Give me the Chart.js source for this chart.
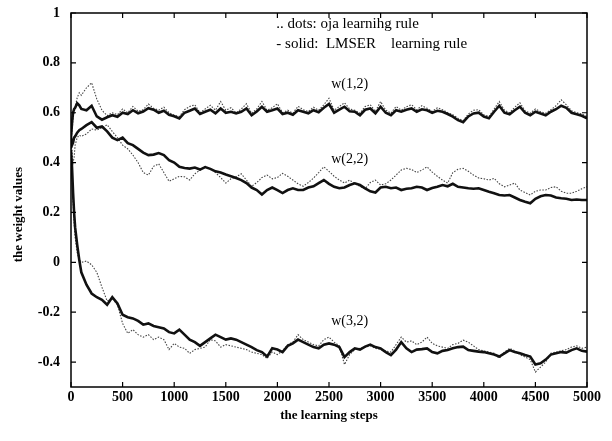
<!DOCTYPE html>
<html>
<head>
<meta charset="utf-8">
<script src="https://cdn.jsdelivr.net/npm/chart.js@4.4.1/dist/chart.umd.min.js"></script>
<style>
  body { margin: 0; background: #fff; }
  #wrap { width: 612px; height: 441px; }
</style>
</head>
<body>
<div id="wrap"><canvas id="grafico" width="612" height="441"></canvas></div>
<script>
// learning steps (x values)
const passos = [0, 10, 20, 30, 40, 60, 80,
  100, 150, 200, 250, 300, 350, 400, 450, 500, 550,
  600, 650, 700, 750, 800, 850, 900, 950, 1000, 1050,
  1100, 1150, 1200, 1250, 1300, 1350, 1400, 1450, 1500, 1550,
  1600, 1650, 1700, 1750, 1800, 1850, 1900, 1950, 2000, 2050,
  2100, 2150, 2200, 2250, 2300, 2350, 2400, 2450, 2500, 2550,
  2600, 2650, 2700, 2750, 2800, 2850, 2900, 2950, 3000, 3050,
  3100, 3150, 3200, 3250, 3300, 3350, 3400, 3450, 3500, 3550,
  3600, 3650, 3700, 3750, 3800, 3850, 3900, 3950, 4000, 4050,
  4100, 4150, 4200, 4250, 4300, 4350, 4400, 4450, 4500, 4550,
  4600, 4650, 4700, 4750, 4800, 4850, 4900, 4950, 5000];

// LMSER (solid)
const lmserW12 = [0.5, 0.56, 0.6, 0.615, 0.62, 0.638, 0.63,
  0.615, 0.61, 0.628, 0.585, 0.572, 0.582, 0.59, 0.584, 0.6, 0.595,
  0.61, 0.598, 0.605, 0.618, 0.612, 0.6, 0.608, 0.592, 0.586, 0.577,
  0.6, 0.608, 0.617, 0.595, 0.604, 0.612, 0.598, 0.617, 0.6, 0.604,
  0.597, 0.604, 0.617, 0.59, 0.605, 0.624, 0.604, 0.61, 0.617, 0.595,
  0.6, 0.592, 0.61, 0.604, 0.598, 0.61, 0.602, 0.62, 0.635, 0.6,
  0.612, 0.624, 0.606, 0.604, 0.59, 0.612, 0.617, 0.598, 0.624, 0.6,
  0.59, 0.61, 0.604, 0.612, 0.617, 0.604, 0.614, 0.61, 0.6, 0.608,
  0.604, 0.595, 0.584, 0.57, 0.562, 0.585, 0.597, 0.6, 0.585, 0.578,
  0.604, 0.628, 0.6, 0.594, 0.61, 0.624, 0.6, 0.59, 0.604, 0.597,
  0.59, 0.604, 0.614, 0.628, 0.62, 0.6, 0.594, 0.588, 0.578];

const lmserW22 = [0.5, 0.47, 0.48, 0.5, 0.505, 0.52, 0.53,
  0.535, 0.55, 0.562, 0.54, 0.545, 0.525, 0.5, 0.49, 0.5, 0.478,
  0.47, 0.455, 0.44, 0.43, 0.432, 0.438, 0.43, 0.41, 0.4, 0.383,
  0.378, 0.376, 0.38, 0.372, 0.382, 0.375, 0.365, 0.36, 0.352, 0.345,
  0.338, 0.33, 0.318, 0.3, 0.29, 0.272, 0.29, 0.3, 0.29, 0.278,
  0.29, 0.297, 0.29, 0.29, 0.3, 0.305, 0.318, 0.33, 0.315, 0.303,
  0.297, 0.3, 0.31, 0.317, 0.31, 0.297, 0.285, 0.28, 0.3, 0.303,
  0.297, 0.3, 0.29, 0.295, 0.297, 0.303, 0.3, 0.29, 0.298, 0.303,
  0.31, 0.305, 0.315, 0.303, 0.3, 0.297, 0.295, 0.297, 0.29, 0.283,
  0.277, 0.27, 0.268, 0.27, 0.26, 0.25, 0.243, 0.237, 0.255, 0.265,
  0.27, 0.268, 0.26, 0.257, 0.255, 0.25, 0.252, 0.25, 0.25];

const lmserW32 = [0.45, 0.38, 0.28, 0.2, 0.14, 0.07, 0.01,
  -0.04, -0.09, -0.125, -0.14, -0.15, -0.17, -0.14, -0.165, -0.21, -0.22,
  -0.225, -0.235, -0.25, -0.245, -0.255, -0.26, -0.265, -0.28, -0.285, -0.27,
  -0.29, -0.31, -0.32, -0.335, -0.32, -0.305, -0.29, -0.3, -0.31, -0.305,
  -0.31, -0.32, -0.33, -0.34, -0.352, -0.36, -0.378, -0.345, -0.35, -0.36,
  -0.335, -0.325, -0.31, -0.32, -0.33, -0.34, -0.345, -0.33, -0.325, -0.33,
  -0.34, -0.38, -0.36, -0.345, -0.35, -0.338, -0.33, -0.34, -0.345, -0.36,
  -0.372, -0.35, -0.32, -0.345, -0.36, -0.35, -0.348, -0.345, -0.36, -0.365,
  -0.355, -0.352, -0.345, -0.34, -0.338, -0.352, -0.355, -0.358, -0.36, -0.365,
  -0.37, -0.378, -0.365, -0.352, -0.36, -0.365, -0.372, -0.378, -0.41, -0.405,
  -0.39, -0.37, -0.365, -0.36, -0.362, -0.352, -0.345, -0.355, -0.358];

// oja (dots)
const ojaW12 = [0.5, 0.52, 0.58, 0.6, 0.62, 0.66, 0.68,
  0.67, 0.7, 0.72, 0.655, 0.61, 0.588, 0.6, 0.592, 0.615, 0.6,
  0.625, 0.606, 0.612, 0.635, 0.618, 0.61, 0.622, 0.6, 0.59, 0.585,
  0.612, 0.625, 0.632, 0.6, 0.615, 0.63, 0.61, 0.645, 0.61, 0.62,
  0.6, 0.615, 0.636, 0.598, 0.615, 0.645, 0.61, 0.62, 0.636, 0.6,
  0.61, 0.598, 0.626, 0.612, 0.605, 0.622, 0.61, 0.632, 0.658, 0.61,
  0.625, 0.64, 0.615, 0.61, 0.598, 0.625, 0.632, 0.605, 0.645, 0.61,
  0.598, 0.625, 0.61, 0.624, 0.632, 0.612, 0.628, 0.618, 0.605, 0.62,
  0.612, 0.6, 0.592, 0.578, 0.568, 0.595, 0.61, 0.612, 0.592, 0.585,
  0.615, 0.645, 0.61, 0.6, 0.622, 0.64, 0.608, 0.598, 0.615, 0.604,
  0.598, 0.612, 0.628, 0.652, 0.632, 0.608, 0.6, 0.595, 0.585];

const ojaW22 = [0.5, 0.44, 0.4, 0.42, 0.47, 0.5, 0.51,
  0.505, 0.515, 0.535, 0.53, 0.54, 0.552, 0.525, 0.5, 0.47, 0.455,
  0.43, 0.4, 0.36, 0.35, 0.385, 0.395, 0.36, 0.325, 0.335, 0.345,
  0.343, 0.33, 0.355, 0.37, 0.385, 0.375, 0.36, 0.34, 0.318, 0.335,
  0.343, 0.355, 0.33, 0.305, 0.32, 0.34, 0.35, 0.335, 0.34, 0.357,
  0.345, 0.33, 0.315, 0.305, 0.32, 0.338, 0.36, 0.383, 0.365, 0.345,
  0.33, 0.318, 0.33, 0.315, 0.305, 0.295, 0.32, 0.33, 0.31, 0.315,
  0.33, 0.35, 0.37, 0.377, 0.372, 0.36, 0.37, 0.383, 0.362, 0.345,
  0.33, 0.318, 0.36, 0.373, 0.377, 0.365, 0.35, 0.338, 0.335, 0.33,
  0.337, 0.315, 0.303, 0.31, 0.318, 0.29, 0.28, 0.27, 0.285, 0.29,
  0.29, 0.3, 0.303, 0.285, 0.277, 0.277, 0.285, 0.295, 0.303];

const ojaW32 = [0.45, 0.36, 0.25, 0.16, 0.1, 0.04, 0.01,
  0.0, 0.005, -0.01, -0.04, -0.1, -0.155, -0.145, -0.17, -0.245, -0.285,
  -0.27, -0.29, -0.3, -0.29, -0.31, -0.3, -0.31, -0.35, -0.325, -0.34,
  -0.345, -0.365, -0.35, -0.345, -0.34, -0.31, -0.315, -0.34, -0.33, -0.335,
  -0.34, -0.345, -0.35, -0.36, -0.365, -0.37, -0.385, -0.36, -0.37, -0.355,
  -0.33, -0.32, -0.29, -0.31, -0.32, -0.33, -0.335, -0.31, -0.3, -0.32,
  -0.335, -0.41, -0.37, -0.35, -0.345, -0.34, -0.335, -0.345, -0.35, -0.355,
  -0.36, -0.33, -0.3, -0.32, -0.315, -0.33, -0.32, -0.3, -0.325, -0.335,
  -0.34, -0.345, -0.33, -0.325, -0.312, -0.32, -0.335, -0.35, -0.355, -0.36,
  -0.365, -0.385, -0.36, -0.345, -0.355, -0.37, -0.38, -0.39, -0.44, -0.42,
  -0.4, -0.365, -0.36, -0.355, -0.35, -0.34, -0.335, -0.345, -0.34];

const xTicks = [0, 500, 1000, 1500, 2000, 2500, 3000, 3500, 4000, 4500, 5000];
const yTicks = [-0.4, -0.2, 0, 0.2, 0.4, 0.6, 0.8, 1];

// text placed in data coordinates
const rotulos = [
  { text: 'w(1,2)', x: 2700, y: 0.715 },
  { text: 'w(2,2)', x: 2700, y: 0.414 },
  { text: 'w(3,2)', x: 2700, y: -0.235 }
];
const legenda = [
  { text: '.. dots: oja learnihg rule', x: 1990, y: 0.955 },
  { text: '- solid:  LMSER    learning rule', x: 1990, y: 0.875 }
];

function pontos(valores) {
  return passos.map((p, i) => ({ x: p, y: valores[i] }));
}

function linhaSolida(label, valores) {
  return { label, data: pontos(valores), borderColor: '#111', borderWidth: 2.6,
    pointRadius: 0, tension: 0, fill: false };
}

function linhaPontos(label, valores) {
  return { label, data: pontos(valores), borderColor: '#444', borderWidth: 1.1,
    borderDash: [1.5, 1.5], pointRadius: 0, tension: 0, fill: false };
}

// box + inward ticks on all four sides, and the text labels
const moldura = {
  id: 'moldura',
  afterDraw(chart) {
    const { ctx, chartArea: a, scales: { x, y } } = chart;
    ctx.save();
    ctx.strokeStyle = '#000';
    ctx.lineWidth = 1.5;
    ctx.strokeRect(a.left, a.top, a.right - a.left, a.bottom - a.top);
    ctx.lineWidth = 1.2;
    ctx.beginPath();
    xTicks.forEach(v => {
      const px = x.getPixelForValue(v);
      ctx.moveTo(px, a.bottom); ctx.lineTo(px, a.bottom - 5);
      ctx.moveTo(px, a.top); ctx.lineTo(px, a.top + 5);
    });
    yTicks.forEach(v => {
      const py = y.getPixelForValue(v);
      ctx.moveTo(a.left, py); ctx.lineTo(a.left + 5, py);
      ctx.moveTo(a.right, py); ctx.lineTo(a.right - 5, py);
    });
    ctx.stroke();

    ctx.fillStyle = '#000';
    ctx.textBaseline = 'middle';
    ctx.font = '14px "Liberation Serif"';
    ctx.textAlign = 'center';
    rotulos.forEach(r => ctx.fillText(r.text, x.getPixelForValue(r.x), y.getPixelForValue(r.y)));
    ctx.font = '15px "Liberation Serif"';
    ctx.textAlign = 'left';
    legenda.forEach(r => ctx.fillText(r.text, x.getPixelForValue(r.x), y.getPixelForValue(r.y)));
    ctx.restore();
  }
};

Chart.defaults.font.family = '"Liberation Serif", serif';
Chart.defaults.color = '#000';

const grafico = new Chart(document.getElementById('grafico'), {
  type: 'line',
  data: {
    datasets: [
      linhaSolida('w(1,2) LMSER', lmserW12),
      linhaSolida('w(2,2) LMSER', lmserW22),
      linhaSolida('w(3,2) LMSER', lmserW32),
      linhaPontos('w(1,2) oja', ojaW12),
      linhaPontos('w(2,2) oja', ojaW22),
      linhaPontos('w(3,2) oja', ojaW32)
    ]
  },
  options: {
    responsive: false,
    animation: false,
    layout: { padding: { top: 13, right: 25, left: 0, bottom: 0 } },
    plugins: { legend: { display: false }, tooltip: { enabled: false } },
    scales: {
      x: {
        type: 'linear',
        min: 0,
        max: 5000,
        afterBuildTicks: s => { s.ticks = xTicks.map(v => ({ value: v })); },
        afterFit: s => { s.height = 54; s.paddingLeft = 0; s.paddingRight = 0; },
        grid: { display: false, drawTicks: false },
        border: { display: false },
        ticks: { font: { size: 14, weight: 'bold' }, padding: 2, maxRotation: 0, autoSkip: false,
          callback: v => String(v) },
        title: { display: true, text: 'the learning steps', font: { size: 13, weight: 'bold' },
          padding: { top: 0, bottom: 18 } }
      },
      y: {
        min: -0.5,
        max: 1,
        afterBuildTicks: s => { s.ticks = yTicks.map(v => ({ value: v })); },
        afterFit: s => { s.width = 71; s.paddingTop = 0; s.paddingBottom = 0; },
        grid: { display: false, drawTicks: false },
        border: { display: false },
        ticks: {
          font: { size: 14, weight: 'bold' },
          padding: 11,
          callback: v => (v === 0 || v === 1) ? String(v) : v.toFixed(1)
        },
        // trailing spaces push the rotated title a bit lower, as in the original
        title: { display: true, text: 'the weight values         ', font: { size: 13, weight: 'bold' },
          padding: { top: 11, bottom: 0 } }
      }
    }
  },
  plugins: [moldura]
});
</script>
</body>
</html>
